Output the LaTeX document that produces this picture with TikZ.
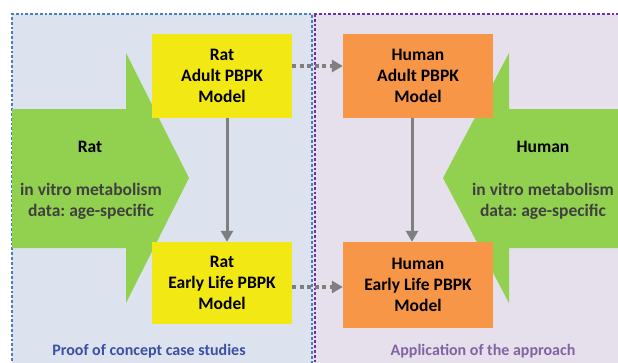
\documentclass[tikz,border=0pt]{standalone}
\usepackage{fontspec}
\setmainfont{Carlito}
\frenchspacing
\usetikzlibrary{arrows.meta}
\definecolor{panelA}{HTML}{DCE3EF}
\definecolor{panelB}{HTML}{E6E0EC}
\definecolor{borderA}{HTML}{4A7EC4}
\definecolor{borderB}{HTML}{7030A0}
\definecolor{greenA}{HTML}{92D050}
\definecolor{yellowA}{HTML}{F2E814}
\definecolor{orangeA}{HTML}{F79646}
\definecolor{grayA}{HTML}{7F7F7F}
\definecolor{txtgray}{HTML}{404040}
\definecolor{blueT}{HTML}{3B4FA3}
\definecolor{purpT}{HTML}{8064A2}
\tikzset{
  box/.style={minimum width=140pt, minimum height=84pt, inner sep=0pt, align=center,
    font=\fontsize{17.5}{21}\selectfont\bfseries},
  ybox/.style={box, fill=yellowA},
  obox/.style={box, fill=orangeA, minimum width=150pt},
  solidarrow/.style={draw=grayA, line width=3pt, -{Triangle[length=11pt,width=12pt]}},
  dotarrow/.style={draw=grayA, line width=3.2pt, dash pattern=on 4pt off 3.5pt, -{Triangle[length=11pt,width=12pt]}},
  arrowtxt/.style={align=center, font=\fontsize{17.5}{21}\selectfont\bfseries},
  panellbl/.style={font=\fontsize{16}{18}\selectfont\bfseries},
  dotborder/.style={line width=2.8pt, dash pattern=on 2.8pt off 2pt}
}
\begin{document}
\begin{tikzpicture}[x=1pt,y=-1pt]
\useasboundingbox (0,0) rectangle (618,362);
\begin{scope}
\clip (0,0) rectangle (618,362);
% panels
\fill[panelB] (313,14) rectangle (630,375);
\fill[panelA] (12,14) rectangle (313,375);
\draw[borderB, dotborder] (314,14) -- (630,14);
\draw[borderB, dotborder] (315,14) -- (315,375);
\draw[borderA, dotborder] (12,375) -- (12,14) -- (312,14) -- (312,375);
% green arrows
\fill[greenA] (12,109) -- (126,109) -- (126,53) -- (189,178) -- (126,303) -- (126,248) -- (12,248) -- cycle;
\fill[greenA] (630,109) -- (509,109) -- (509,53) -- (443,178) -- (509,303) -- (509,248) -- (630,248) -- cycle;
\end{scope}
\node[arrowtxt] (ratlbl) at (90,147) {Rat};
\node[arrowtxt, text=txtgray] (ratvitro) at (91,201) {in vitro metabolism\\data: age-specific};
\node[arrowtxt] (humlbl) at (543,147) {Human};
\node[arrowtxt, text=txtgray] (humvitro) at (543,201) {in vitro metabolism\\data: age-specific};
% boxes
\node[ybox] (ratadult) at (222,76) {Rat\\Adult PBPK\\Model};
\node[ybox, minimum height=82pt] (ratearly) at (222,283) {Rat\\Early Life PBPK\\Model};
\node[obox] (humadult) at (418,76) {Human\\Adult PBPK\\Model};
\node[obox, minimum height=86pt] (humearly) at (418,285) {Human\\Early Life PBPK\\Model};
% connectors
\draw[solidarrow] ([xshift=5pt]ratadult.south) -- ([xshift=5pt]ratearly.north);
\draw[solidarrow] ([xshift=-6pt]humadult.south) -- ([xshift=-6pt]humearly.north);
\draw[dotarrow] ([yshift=10pt]ratadult.east) -- ([yshift=10pt]humadult.west);
\draw[dotarrow] ([yshift=-4pt]ratearly.east) -- ([yshift=-2pt]humearly.west);
% panel labels
\node[panellbl, text=blueT] (lbla) at (149,351) {Proof of concept case studies};
\node[panellbl, text=purpT] (lblb) at (483,351) {Application of the approach};
\end{tikzpicture}
\end{document}
